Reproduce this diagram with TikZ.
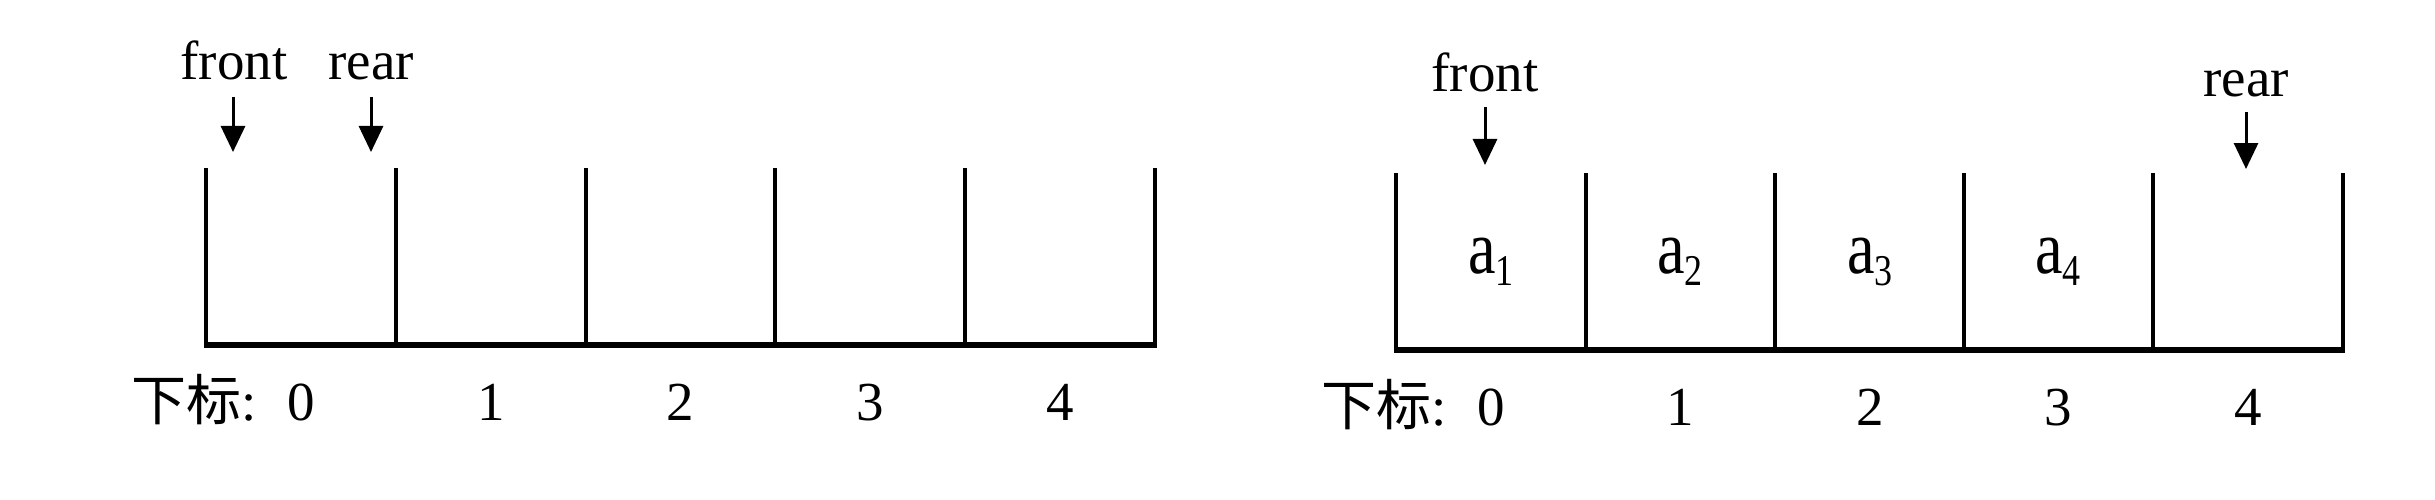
\documentclass[tikz,border=0pt]{standalone}
\usepackage{fontspec}
\usepackage{graphicx}
\setmainfont{Liberation Serif}
\newfontfamily\cjk{Noto Sans CJK SC}
\usetikzlibrary{arrows.meta}
\newcommand{\elemtxt}[1]{\scalebox{1}[1.22]{a\raisebox{-10pt}{\fontsize{36}{40}\selectfont #1}}}
\begin{document}
\begin{tikzpicture}[x=1pt,y=-1pt,
  wall/.style={line width=3.5pt},
  base/.style={line width=6pt},
  ptr/.style={line width=3pt,-{Triangle[length=26pt,width=24pt]}},
  lab/.style={font=\fontsize{55}{60}\selectfont, inner sep=0pt, anchor=base},
  elem/.style={font=\fontsize{62}{70}\selectfont, inner sep=0pt, anchor=base}]
\useasboundingbox (0,0) rectangle (2435,500);
% ---------- left queue (empty) ----------
\foreach \x [count=\i] in {206,396,586,775,965,1155}
  \draw[wall] (\x,168) coordinate (L\i t) -- (\x,345) coordinate (L\i b);
\draw[base] ([xshift=-1.75pt]L1b) -- ([xshift=1.75pt]L6b);
\foreach \c [count=\i from 0] in {301,491,680,870,1060}
  \node[lab] (Li\i) at (\c,420) {\i};
\node[lab, anchor=base east] (Lxb) at ([xshift=-30pt]Li0.base west) {{\cjk 下标}:};
\node[lab] (Lfront) at (234,80) {front};
\node[lab] (Lrear) at (371,80) {rear};
\coordinate (Lfs) at (233,97); \coordinate (Lfe) at (233,152);
\coordinate (Lrs) at (371,97); \coordinate (Lre) at (371,152);
\draw[ptr] (Lfs) -- (Lfe);
\draw[ptr] (Lrs) -- (Lre);
% ---------- right queue ----------
\foreach \x [count=\i] in {1396,1586,1775,1964,2153,2343}
  \draw[wall] (\x,173) coordinate (R\i t) -- (\x,350) coordinate (R\i b);
\draw[base] ([xshift=-1.75pt]R1b) -- ([xshift=1.75pt]R6b);
\foreach \c [count=\i from 0] in {1491,1680,1870,2058,2248}
  \node[lab] (Ri\i) at (\c,425) {\i};
\node[lab, anchor=base east] (Rxb) at ([xshift=-30pt]Ri0.base west) {{\cjk 下标}:};
\foreach \c [count=\i] in {1491,1680,1870,2058}
  \node[elem] (Ra\i) at (\c,273) {\elemtxt{\i}};
\node[lab] (Rfront) at (1485,92) {front};
\node[lab] (Rrear) at (2246,97) {rear};
\coordinate (Rfs) at (1485,107); \coordinate (Rfe) at (1485,165);
\coordinate (Rrs) at (2246,112); \coordinate (Rre) at (2246,169);
\draw[ptr] (Rfs) -- (Rfe);
\draw[ptr] (Rrs) -- (Rre);
\end{tikzpicture}
\end{document}
